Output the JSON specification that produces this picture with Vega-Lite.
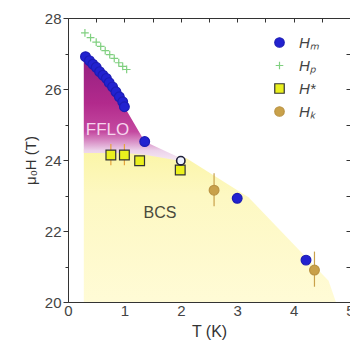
{
  "$schema": "https://vega.github.io/schema/vega-lite/v6.json",
  "width": 282,
  "height": 284,
  "autosize": {"type": "none"},
  "padding": {"left": 68, "top": 18, "right": 0, "bottom": 43},
  "background": "white",
  "config": {
    "view": {"stroke": "#333333", "strokeWidth": 1},
    "font": "Liberation Sans",
    "axis": {"grid": false, "domain": false, "tickColor": "#333333", "labelColor": "#444444", "labelFont": "Liberation Sans", "titleFont": "Liberation Sans", "titleFontWeight": "normal", "titleColor": "#333333", "labelFlush": false},
    "legend": {"labelFont": "Liberation Sans", "labelFontSize": 15, "labelFontStyle": "italic", "labelColor": "#444444", "symbolSize": 90, "symbolStrokeWidth": 1.2, "rowPadding": 7, "labelOffset": 12}
  },
  "datasets": {
    "bcs": [
      {"T": 0.28, "H": 24.3},
      {"T": 1.3, "H": 24.25},
      {"T": 2.1, "H": 24.05},
      {"T": 3.2, "H": 22.95},
      {"T": 4.62, "H": 20.6},
      {"T": 4.75, "H": 20.0}
    ],
    "fflo": [
      {"T": 0.28, "top": 26.93, "bot": 24.2},
      {"T": 0.5, "top": 26.61, "bot": 24.2},
      {"T": 0.75, "top": 26.15, "bot": 24.2},
      {"T": 1.0, "top": 25.5, "bot": 24.2},
      {"T": 1.36, "top": 24.52, "bot": 24.15},
      {"T": 2.0, "top": 24.05, "bot": 23.97}
    ],
    "points": [
      {"series": "Hₚ", "T": 0.30, "H": 27.58},
      {"series": "Hₚ", "T": 0.40, "H": 27.45},
      {"series": "Hₚ", "T": 0.50, "H": 27.32},
      {"series": "Hₚ", "T": 0.58, "H": 27.2},
      {"series": "Hₚ", "T": 0.66, "H": 27.08},
      {"series": "Hₚ", "T": 0.74, "H": 26.97},
      {"series": "Hₚ", "T": 0.82, "H": 26.86},
      {"series": "Hₚ", "T": 0.90, "H": 26.74},
      {"series": "Hₚ", "T": 0.97, "H": 26.64},
      {"series": "Hₚ", "T": 1.04, "H": 26.55},
      {"series": "Hₘ", "T": 0.31, "H": 26.91},
      {"series": "Hₘ", "T": 0.38, "H": 26.8},
      {"series": "Hₘ", "T": 0.44, "H": 26.7},
      {"series": "Hₘ", "T": 0.50, "H": 26.61},
      {"series": "Hₘ", "T": 0.56, "H": 26.49},
      {"series": "Hₘ", "T": 0.62, "H": 26.39},
      {"series": "Hₘ", "T": 0.68, "H": 26.3},
      {"series": "Hₘ", "T": 0.73, "H": 26.18},
      {"series": "Hₘ", "T": 0.79, "H": 26.06},
      {"series": "Hₘ", "T": 0.85, "H": 25.92},
      {"series": "Hₘ", "T": 0.91, "H": 25.78},
      {"series": "Hₘ", "T": 0.97, "H": 25.64},
      {"series": "Hₘ", "T": 1.0, "H": 25.5},
      {"series": "Hₘ", "T": 1.36, "H": 24.52},
      {"series": "Hₘ", "T": 3.0, "H": 22.92},
      {"series": "Hₘ", "T": 4.22, "H": 21.18},
      {"series": "H*", "T": 0.76, "H": 24.14},
      {"series": "H*", "T": 1.0, "H": 24.14},
      {"series": "H*", "T": 1.27, "H": 23.98},
      {"series": "H*", "T": 1.99, "H": 23.72},
      {"series": "Hₖ", "T": 2.59, "H": 23.15},
      {"series": "Hₖ", "T": 4.37, "H": 20.9}
    ],
    "errors": [
      {"series": "H*", "T": 0.76, "lo": 23.85, "hi": 24.45},
      {"series": "H*", "T": 1.0, "lo": 23.85, "hi": 24.45},
      {"series": "Hₖ", "T": 2.59, "lo": 22.7, "hi": 23.63},
      {"series": "Hₖ", "T": 4.37, "lo": 20.43, "hi": 21.42}
    ],
    "open": [
      {"T": 2.0, "H": 23.98}
    ],
    "fflo_label": [
      {"T": 0.7, "H": 24.85, "text": "FFLO"}
    ],
    "bcs_label": [
      {"T": 1.63, "H": 22.52, "text": "BCS"}
    ]
  },
  "resolve": {"axis": {"x": "independent", "y": "independent"}},
  "layer": [
    {
      "data": {"name": "bcs"},
      "mark": {"type": "area", "interpolate": "linear",
        "fill": {"gradient": "linear", "x1": 0, "y1": 0, "x2": 0, "y2": 1,
          "stops": [{"offset": 0, "color": "#fbf5a6"}, {"offset": 0.3, "color": "#fdf8c2"}, {"offset": 1, "color": "#fffbd6"}]}},
      "encoding": {
        "x": {"field": "T", "type": "quantitative", "scale": {"domain": [0, 5], "nice": false},
          "axis": {"orient": "bottom", "values": [0, 0.5, 1, 1.5, 2, 2.5, 3, 3.5, 4, 4.5, 5],
            "labelExpr": "datum.value % 1 === 0 ? format(datum.value, 'd') : ''",
            "tickSize": {"condition": {"test": "datum.value % 1 === 0", "value": -6}, "value": -3},
            "labelPadding": 7, "labelFontSize": 15, "title": "T (K)", "titleFontSize": 16, "titlePadding": 5}},
        "y": {"field": "H", "type": "quantitative", "scale": {"domain": [20, 28], "nice": false},
          "axis": {"orient": "left", "values": [20, 21, 22, 23, 24, 25, 26, 27, 28],
            "labelExpr": "datum.value % 2 === 0 ? datum.label : ''",
            "tickSize": {"condition": {"test": "datum.value % 2 === 0", "value": 5}, "value": 3},
            "labelPadding": 2, "labelFontSize": 15, "title": "μ₀H (T)", "titleFontSize": 15, "titlePadding": 6}},
        "y2": {"datum": 20}
      }
    },
    {
      "data": {"name": "fflo"},
      "mark": {"type": "area", "interpolate": "linear",
        "fill": {"gradient": "linear", "x1": 0, "y1": 0, "x2": 0, "y2": 1,
          "stops": [{"offset": 0, "color": "#931f80"}, {"offset": 0.45, "color": "#b22a8c"}, {"offset": 0.72, "color": "#c449a0"}, {"offset": 0.9, "color": "#ecd2ea"}, {"offset": 1, "color": "#f6eaf4"}]}},
      "encoding": {
        "x": {"field": "T", "type": "quantitative",
          "axis": {"orient": "top", "values": [0, 0.5, 1, 1.5, 2, 2.5, 3, 3.5, 4, 4.5, 5], "labels": false, "tickSize": -4, "title": null}},
        "y": {"field": "top", "type": "quantitative",
          "axis": {"orient": "right", "values": [20, 21, 22, 23, 24, 25, 26, 27, 28], "labels": false, "tickSize": -4, "title": null}},
        "y2": {"field": "bot"}
      }
    },
    {
      "data": {"name": "errors"},
      "transform": [{"filter": "datum.series === 'H*'"}],
      "mark": {"type": "rule", "strokeWidth": 1.2, "color": "#e6a43c"},
      "encoding": {
        "x": {"field": "T", "type": "quantitative", "axis": null},
        "y": {"field": "lo", "type": "quantitative", "axis": null},
        "y2": {"field": "hi"}
      }
    },
    {
      "data": {"name": "errors"},
      "transform": [{"filter": "datum.series === 'Hₖ'"}],
      "mark": {"type": "rule", "strokeWidth": 1.2, "color": "#c9a14a"},
      "encoding": {
        "x": {"field": "T", "type": "quantitative", "axis": null},
        "y": {"field": "lo", "type": "quantitative", "axis": null},
        "y2": {"field": "hi"}
      }
    },
    {
      "data": {"name": "points"},
      "mark": {"type": "point", "filled": true, "size": 95, "strokeWidth": 1.2, "opacity": 1},
      "encoding": {
        "x": {"field": "T", "type": "quantitative", "axis": null},
        "y": {"field": "H", "type": "quantitative", "axis": null},
        "fill": {"field": "series", "type": "nominal",
          "scale": {"domain": ["Hₘ", "Hₚ", "H*", "Hₖ"], "range": ["#2222d0", "#8fd88f", "#eaf01e", "#c9a14a"]},
          "legend": {"title": null, "orient": "none", "legendX": 204, "legendY": 17}},
        "stroke": {"field": "series", "type": "nominal",
          "scale": {"domain": ["Hₘ", "Hₚ", "H*", "Hₖ"], "range": ["#1c1cb4", "#80d080", "#333333", "#bb9444"]},
          "legend": {"title": null, "orient": "none", "legendX": 204, "legendY": 17}},
        "shape": {"field": "series", "type": "nominal",
          "scale": {"domain": ["Hₘ", "Hₚ", "H*", "Hₖ"], "range": ["circle", "M-0.8,0H0.8M0,-0.8V0.8", "square", "circle"]},
          "legend": {"title": null, "orient": "none", "legendX": 204, "legendY": 17}}
      }
    },
    {
      "data": {"name": "open"},
      "mark": {"type": "point", "filled": false, "size": 70, "strokeWidth": 1.6, "color": "#20203a", "fill": "#eef2ff", "fillOpacity": 1},
      "encoding": {
        "x": {"field": "T", "type": "quantitative", "axis": null},
        "y": {"field": "H", "type": "quantitative", "axis": null}
      }
    },
    {
      "data": {"name": "fflo_label"},
      "mark": {"type": "text", "font": "Liberation Sans", "align": "center", "baseline": "middle", "fontSize": 17, "color": "#f6d6ee"},
      "encoding": {
        "x": {"field": "T", "type": "quantitative", "axis": null},
        "y": {"field": "H", "type": "quantitative", "axis": null},
        "text": {"field": "text"}
      }
    },
    {
      "data": {"name": "bcs_label"},
      "mark": {"type": "text", "font": "Liberation Sans", "align": "center", "baseline": "middle", "fontSize": 16, "color": "#4a4a3c"},
      "encoding": {
        "x": {"field": "T", "type": "quantitative", "axis": null},
        "y": {"field": "H", "type": "quantitative", "axis": null},
        "text": {"field": "text"}
      }
    }
  ]
}
